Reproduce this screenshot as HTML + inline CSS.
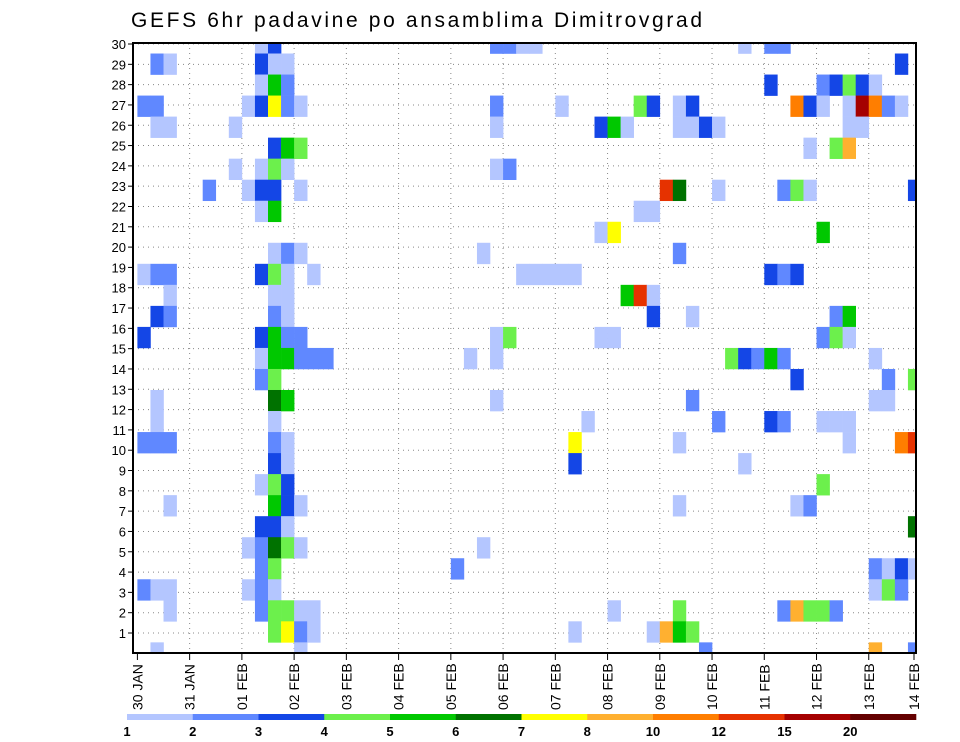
<!DOCTYPE html>
<html><head><meta charset="utf-8"><style>
html,body{margin:0;padding:0;background:#fff;}
svg{display:block;font-family:"Liberation Sans",sans-serif;}
</style></head><body>
<svg id="chart" width="960" height="742" viewBox="0 0 960 742" xmlns="http://www.w3.org/2000/svg">
<text x="131" y="27" font-size="21" textLength="571" fill="#000">GEFS 6hr padavine po ansamblima Dimitrovgrad</text>
<defs><clipPath id="plotclip"><rect x="133" y="43" width="783" height="610"/></clipPath></defs>
<g id="grid"></g>
<g id="cells" clip-path="url(#plotclip)"></g>
<rect x="133" y="43" width="783" height="610" fill="none" stroke="#000" stroke-width="2"/>
<g id="yaxis"></g>
<g id="xaxis"></g>
<g id="legend"></g>
</svg>
<script>
// 6-hour step index (0 = 30 JAN 00z)
const cellTimes = [
0,0,0,0,0,
1,1,1,1,1,1,1,1,1,1,
2,2,2,2,2,2,2,2,2,
5,
7,7,
8,8,8,8,
9,9,9,9,9,9,9,9,9,9,9,9,9,9,9,9,9,
10,10,10,10,10,10,10,10,10,10,10,10,10,10,10,10,10,10,10,10,10,10,10,10,10,10,10,
11,11,11,11,11,11,11,11,11,11,11,11,11,11,11,11,11,11,11,11,
12,12,12,12,12,12,12,12,12,12,12,
13,13,13,13,
14,
24,
25,
26,26,
27,27,27,27,27,27,27,
28,28,28,
29,29,
30,30,
31,
32,32,
33,33,33,33,
34,
35,35,35,
36,36,36,36,
37,37,
38,38,38,
39,39,39,39,39,
40,40,
41,41,41,41,41,41,41,41,
42,42,42,42,42,
43,43,
44,44,44,
45,
46,46,46,
47,
48,48,48,48,48,
49,49,49,49,49,49,
50,50,50,50,50,50,
51,51,51,51,51,
52,52,52,52,52,52,52,
53,53,53,53,53,53,
54,54,54,54,54,54,54,54,
55,55,55,
56,56,56,56,56,56,56,
57,57,57,57,57,
58,58,58,58,58,
59,59,59,59,59,59
];
// cell row index from top (0 = top row)
const cellMembers = [
3,11,14,19,26,
1,3,4,11,13,17,18,19,26,29,
1,4,11,12,13,19,22,26,27,
7,
4,6,
3,7,24,26,
0,1,2,3,6,7,8,11,14,15,16,21,23,24,25,26,27,
0,1,2,3,5,6,7,8,10,11,12,13,14,15,16,17,18,19,20,21,22,23,24,25,26,27,28,
1,2,3,5,6,10,11,12,13,14,15,17,19,20,21,22,23,24,27,28,
3,5,7,10,14,15,22,24,27,28,29,
11,15,27,28,
15,
25,
15,
10,24,
0,3,4,6,14,15,17,
0,6,14,
0,11,
0,11,
11,
3,11,
11,19,20,28,
18,
4,9,14,
4,9,14,27,
4,12,
3,8,12,
3,8,12,13,28,
7,28,
3,4,7,10,19,22,27,28,
3,4,13,17,28,
4,29,
4,7,18,
15,
0,15,20,
15,
0,2,11,15,18,
0,7,11,15,18,27,
3,7,11,16,22,27,
3,5,7,22,27,
2,3,9,14,18,21,27,
2,5,13,14,18,27,
2,3,4,5,13,14,18,19,
2,3,4,
2,3,15,17,25,26,29,
3,16,17,25,26,
1,3,19,25,26,
7,16,19,23,25,29
];
// precipitation (mm / 6h)
const cellPrecip = [
2.5,1.5,3.5,2.5,2.5,
2.5,2.5,1.5,2.5,3.5,1.5,1.5,2.5,1.5,1.5,
1.5,1.5,2.5,1.5,2.5,2.5,1.5,1.5,1.5,
2.5,
1.5,1.5,
1.5,1.5,1.5,1.5,
1.5,3.5,1.5,3.5,1.5,3.5,1.5,3.5,3.5,1.5,2.5,1.5,3.5,2.5,2.5,2.5,2.5,
3.5,1.5,5.5,7.5,3.5,4.5,3.5,5.5,1.5,4.5,1.5,2.5,5.5,5.5,4.5,6.5,1.5,2.5,3.5,4.5,5.5,3.5,6.5,4.5,1.5,4.5,4.5,
1.5,2.5,2.5,5.5,1.5,2.5,1.5,1.5,1.5,2.5,5.5,5.5,1.5,1.5,3.5,3.5,1.5,4.5,4.5,7.5,
1.5,4.5,1.5,1.5,2.5,2.5,1.5,1.5,1.5,2.5,1.5,
1.5,2.5,1.5,1.5,
2.5,
2.5,
1.5,
1.5,1.5,
2.5,2.5,1.5,1.5,1.5,1.5,1.5,
2.5,2.5,4.5,
1.5,1.5,
1.5,1.5,
1.5,
1.5,1.5,
1.5,7.5,3.5,1.5,
1.5,
3.5,1.5,1.5,
5.5,7.5,1.5,1.5,
1.5,5.5,
4.5,1.5,13.5,
3.5,1.5,1.5,3.5,1.5,
13.5,9,
1.5,1.5,6.5,2.5,1.5,1.5,4.5,5.5,
3.5,1.5,1.5,2.5,4.5,
3.5,2.5,
1.5,1.5,2.5,
4.5,
1.5,3.5,1.5,
2.5,
2.5,3.5,3.5,5.5,3.5,
2.5,2.5,2.5,2.5,2.5,2.5,
11,4.5,3.5,3.5,1.5,9,
3.5,1.5,1.5,2.5,4.5,
2.5,1.5,5.5,2.5,1.5,4.5,4.5,
3.5,4.5,2.5,4.5,1.5,2.5,
4.5,1.5,1.5,9,5.5,1.5,1.5,1.5,
3.5,17,1.5,
1.5,11,1.5,1.5,2.5,1.5,9,
2.5,2.5,1.5,1.5,4.5,
3.5,1.5,11,3.5,2.5,
3.5,4.5,13.5,6.5,1.5,2.5
];
const levels = [1,2,3,4,5,6,7,8,10,12,15,20];
const levelColors = ["#b4c6ff","#6088ff","#1446e6","#6cf04c","#00c800","#007200","#ffff00","#ffb030","#ff7e00","#e63200","#a50000","#640000"];
const yTickLabels = ["1","2","3","4","5","6","7","8","9","10","11","12","13","14","15","16","17","18","19","20","21","22","23","24","25","26","27","28","29","30"];
const dateLabels = ["30 JAN","31 JAN","01 FEB","02 FEB","03 FEB","04 FEB","05 FEB","06 FEB","07 FEB","08 FEB","09 FEB","10 FEB","11 FEB","12 FEB","13 FEB","14 FEB"];

const NS = "http://www.w3.org/2000/svg";
const stepW = 13.06, x0 = 137.4, rowH = 21.03, rowY0 = 43;
function xScale(t){ return x0 + t*stepW; }
function dayX(d){ return x0 + d*4*stepW; }
function rowY(k){ return rowY0 + k*rowH; }
function tickY(i){ return 633 - i*20.31; }
function colorFor(v){ let c = 0; for(let i=0;i<levels.length;i++){ if(v>=levels[i]) c=i; } return levelColors[c]; }
function mk(tag, attrs, parent){ const e=document.createElementNS(NS,tag); for(const k in attrs) e.setAttribute(k, attrs[k]); parent.appendChild(e); return e; }

const grid = document.getElementById('grid');
yTickLabels.forEach((lab,i)=>{
  const l = mk('line',{x1:133,x2:916,y1:tickY(i),y2:tickY(i),stroke:'#888','stroke-width':1,'stroke-dasharray':'1,4'},grid);
  
  
});
dateLabels.forEach((lab,d)=>{
  if(d===0||d===dateLabels.length-1) return;
  const l = mk('line',{x1:dayX(d),x2:dayX(d),y1:43,y2:653,stroke:'#888','stroke-width':1,'stroke-dasharray':'1,4'},grid);
  
  
});

const cells = document.getElementById('cells');
for(let i=0;i<cellTimes.length;i++){
  const r = mk('rect',{x:xScale(cellTimes[i]),y:rowY(cellMembers[i])-rowH/2,width:stepW+0.3,height:rowH+0.3,fill:colorFor(cellPrecip[i])},cells);
  
  
}

const yaxis = document.getElementById('yaxis');
yTickLabels.forEach((lab,i)=>{
  const t = mk('text',{x:126,y:tickY(i)+5,'text-anchor':'end','font-size':13,fill:'#000'},yaxis);
  t.textContent = lab;
  
  
  const tk = mk('line',{x1:128,x2:133,y1:tickY(i),y2:tickY(i),stroke:'#000','stroke-width':1},yaxis);
  
  
});

const xaxis = document.getElementById('xaxis');
dateLabels.forEach((lab,d)=>{
  const x = Math.min(dayX(d), 914);
  const tk = mk('line',{x1:x,x2:x,y1:653,y2:660,stroke:'#000','stroke-width':1},xaxis);
  
  
  const t = mk('text',{x:0,y:0,'font-size':14,fill:'#000',transform:'translate('+(x+5)+',710) rotate(-90)'},xaxis);
  t.textContent = lab;
  
  
});

const legend = document.getElementById('legend');
const segW = (916-127)/levels.length;
levels.forEach((lv,i)=>{
  const r = mk('rect',{x:127+i*segW,y:714,width:segW+0.3,height:6,fill:levelColors[i]},legend);
  
  
  const t = mk('text',{x:127+i*segW,y:736,'text-anchor':'middle','font-size':13,'font-weight':'bold',fill:'#000'},legend);
  t.textContent = String(lv);
  
  
});
</script>
</body></html>
